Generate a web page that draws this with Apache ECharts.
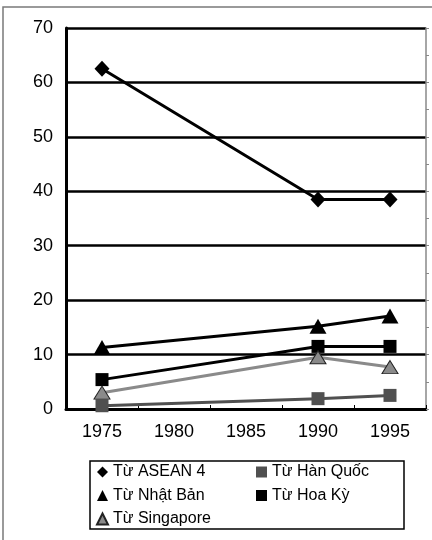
<!DOCTYPE html>
<html>
<head>
<meta charset="utf-8">
<script src="https://cdn.jsdelivr.net/npm/echarts@6/dist/echarts.min.js"></script>
<style>
  html, body { margin: 0; padding: 0; background: #fff; }
  #chart { width: 432px; height: 540px; }
</style>
</head>
<body>
<div id="chart"></div>
<script>
// Years on the category axis
const years = ['1975', '1980', '1985', '1990', '1995'];

// Shares by source (%), only 1975, 1990 and 1995 observed
const asean4   = [62.5, null, null, 38.5, 38.5];
const hanQuoc  = [0.6,  null, null, 1.9,  2.5];
const nhatBan  = [11.3, null, null, 15.2, 17.1];
const hoaKy    = [5.4,  null, null, 11.5, 11.5];
const singapore = [3.0, null, null, 9.5,  7.7];

// Value axis ticks
const yTicks = { min: 0, max: 70, step: 10 };

const FONT = "'Liberation Sans', Arial, sans-serif";

const chart = echarts.init(document.getElementById('chart'), null, { renderer: 'canvas' });

function lineSeries(name, data, color, symbol, size, extra) {
  return Object.assign({
    name: name,
    type: 'line',
    data: data,
    connectNulls: true,
    symbol: symbol,
    symbolSize: size,
    showAllSymbol: true,
    lineStyle: { color: color, width: 3 },
    itemStyle: { color: color, opacity: 1 },
    emphasis: { disabled: true },
    animation: false
  }, extra || {});
}

const legendText = { color: '#000', fontFamily: FONT, fontSize: 16, lineHeight: 16 };

chart.setOption({
  animation: false,
  backgroundColor: '#fff',
  graphic: [
    {
      type: 'rect',
      shape: { x: 3, y: 7, width: 520, height: 600 },
      style: { fill: 'none', stroke: '#7a7a7a', lineWidth: 1.5 },
      silent: true, z: -1
    },
    {
      type: 'rect',
      shape: { x: 90, y: 461, width: 314, height: 68 },
      style: { fill: 'none', stroke: '#000', lineWidth: 1.5 },
      silent: true
    }
  ],
  grid: { left: 66, top: 28, width: 360, height: 381, containLabel: false },
  xAxis: {
    type: 'category',
    data: years,
    boundaryGap: true,
    axisLine: { show: true, lineStyle: { color: '#000', width: 3 } },
    axisTick: { show: true, inside: true, length: 4, lineStyle: { color: '#000', width: 1 } },
    axisLabel: { color: '#000', fontFamily: FONT, fontSize: 18, margin: 14 },
    splitLine: { show: false }
  },
  yAxis: [
    {
      type: 'value',
      min: yTicks.min, max: yTicks.max, interval: yTicks.step,
      axisLine: { show: true, lineStyle: { color: '#000', width: 3 } },
      axisTick: { show: false },
      axisLabel: { color: '#000', fontFamily: FONT, fontSize: 18, margin: 13 },
      splitLine: { show: true, lineStyle: { color: '#000', width: 2.5 } }
    },
    {
      type: 'value',
      position: 'right',
      min: yTicks.min, max: yTicks.max, interval: yTicks.step / 2,
      axisLine: { show: true, lineStyle: { color: '#888', width: 1.5 } },
      axisTick: { show: true, inside: false, length: 3, lineStyle: { color: '#888', width: 1 } },
      axisLabel: { show: false },
      splitLine: { show: false }
    }
  ],
  legend: [
    {
      orient: 'vertical',
      left: 91, top: 459,
      itemWidth: 11, itemHeight: 11,
      itemGap: 7.5,
      textStyle: legendText,
      selectedMode: false,
      data: [
        { name: 'Từ ASEAN 4', icon: 'diamond' },
        { name: 'Từ Nhật Bản', icon: 'triangle' },
        { name: 'Từ Singapore', icon: 'triangle' }
      ]
    },
    {
      orient: 'vertical',
      left: 251, top: 459,
      itemWidth: 11, itemHeight: 11,
      itemGap: 7.5,
      textStyle: legendText,
      selectedMode: false,
      data: [
        { name: 'Từ Hàn Quốc', icon: 'rect' },
        { name: 'Từ Hoa Kỳ', icon: 'rect' }
      ]
    }
  ],
  series: [
    lineSeries('Từ ASEAN 4', asean4, '#000', 'diamond', [15, 16]),
    lineSeries('Từ Hàn Quốc', hanQuoc, '#505050', 'rect', 13),
    lineSeries('Từ Nhật Bản', nhatBan, '#000', 'triangle', [17, 15]),
    lineSeries('Từ Hoa Kỳ', hoaKy, '#000', 'rect', 13),
    lineSeries('Từ Singapore', singapore, '#8a8a8a', 'triangle', [16, 13], {
      itemStyle: { color: '#8a8a8a', borderColor: '#222', borderWidth: 1, opacity: 1 }
    })
  ]
});
</script>
</body>
</html>
